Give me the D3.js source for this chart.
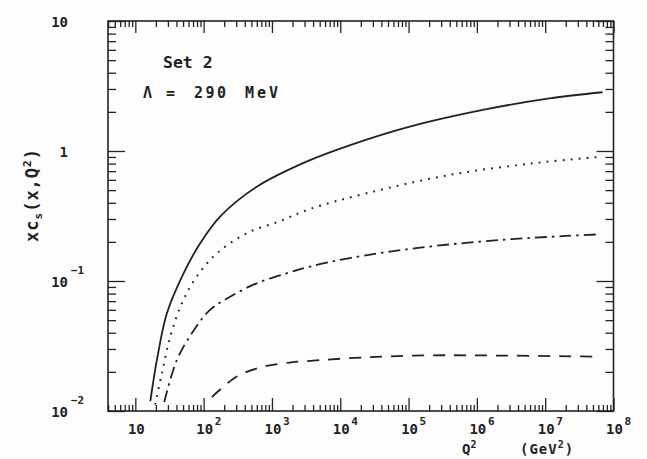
<!DOCTYPE html>
<html>
<head>
<meta charset="utf-8">
<script src="https://cdn.jsdelivr.net/npm/d3@7"></script>
<style>
  html, body { margin: 0; padding: 0; background: #fdfdfd; }
  svg { display: block; }
  text { font-family: "DejaVu Sans Mono", monospace; font-weight: bold; fill: #222; }
</style>
</head>
<body>
<svg id="chart" width="647" height="459"></svg>
<script>
// Charm distribution xc(x,Q^2) vs Q^2, four curves (solid, dotted, dash-dot, dashed)
const solidQ2   = [16.6, 20.7, 29, 51, 89, 174, 600, 3200, 1.4e4, 1.04e5, 1.22e6, 1.15e7, 6.9e7];
const solidVal  = [0.0119, 0.0247, 0.0565, 0.115, 0.195, 0.313, 0.531, 0.828, 1.11, 1.54, 2.07, 2.54, 2.83];

const dottedQ2  = [19.5, 24.5, 32.4, 48, 79, 156, 428, 1310, 3590, 2.42e4, 3.97e5, 6.5e6, 6.9e7];
const dottedVal = [0.0112, 0.0195, 0.0373, 0.0673, 0.108, 0.163, 0.233, 0.289, 0.358, 0.473, 0.654, 0.804, 0.904];

const dashDotQ2  = [26.5, 40.6, 67.3, 124, 244, 597, 1640, 3590, 1.38e4, 1.29e5, 2.13e6, 2.0e7, 6.1e7];
const dashDotVal = [0.0117, 0.0247, 0.0396, 0.0599, 0.0757, 0.096, 0.1146, 0.129, 0.150, 0.179, 0.2066, 0.222, 0.2285];

const dashedQ2  = [132, 306, 746, 1830, 3200, 2.42e4, 2.26e5, 2.13e6, 4.9e7];
const dashedVal = [0.0128, 0.0184, 0.0219, 0.0236, 0.0242, 0.0259, 0.0268, 0.0267, 0.0262];

// Axis decades and their labels (base "10", exponent as superscript)
const xTickValues = [10, 1e2, 1e3, 1e4, 1e5, 1e6, 1e7, 1e8];
const xTickExps   = ["", "2", "3", "4", "5", "6", "7", "8"];
const yTickValues = [10, 1, 0.1, 0.01];
const yTickBases  = ["10", "1", "10", "10"];
const yTickExps   = ["", "", "\u22121", "\u22122"];

const svg = d3.select("#chart");
const plotLeft = 108, plotRight = 613.5, plotTop = 21, plotBottom = 411;

const x = d3.scaleLog().domain([Math.pow(10, 0.6), 1e8]).range([plotLeft, plotRight]);
const y = d3.scaleLog().domain([0.01, 10]).range([plotBottom, plotTop]);

// minor ticks 2..9 within each decade
function minors(scale) {
  const [d0, d1] = scale.domain();
  const out = [];
  for (let e = Math.floor(Math.log10(d0)); e < Math.ceil(Math.log10(d1)); e++) {
    for (let m = 2; m <= 9; m++) {
      const v = m * Math.pow(10, e);
      if (v >= d0 * 0.999 && v <= d1 * 1.001) out.push(v);
    }
  }
  return out;
}
const xMajor = d3.range(1, 9).map(e => Math.pow(10, e));
const yMajor = [0.01, 0.1, 1, 10];

function drawAxis(axis, tx, ty) {
  const g = svg.append("g").attr("transform", `translate(${tx},${ty})`).call(axis);
  g.select(".domain").remove();
  g.selectAll("line").attr("stroke", "#222").attr("stroke-width", 1.3);
  g.selectAll("text").remove();
}

// inward ticks on all four sides
drawAxis(d3.axisBottom(x).tickValues(xMajor).tickSize(-13).tickSizeOuter(0), 0, plotBottom);
drawAxis(d3.axisBottom(x).tickValues(minors(x)).tickSize(-6).tickSizeOuter(0), 0, plotBottom);
drawAxis(d3.axisTop(x).tickValues(xMajor).tickSize(-12).tickSizeOuter(0), 0, plotTop);
drawAxis(d3.axisTop(x).tickValues(minors(x)).tickSize(-6).tickSizeOuter(0), 0, plotTop);
drawAxis(d3.axisLeft(y).tickValues(yMajor).tickSize(-17).tickSizeOuter(0), plotLeft, 0);
drawAxis(d3.axisLeft(y).tickValues(minors(y)).tickSize(-8).tickSizeOuter(0), plotLeft, 0);
drawAxis(d3.axisRight(y).tickValues(yMajor).tickSize(-17).tickSizeOuter(0), plotRight, 0);
drawAxis(d3.axisRight(y).tickValues(minors(y)).tickSize(-8).tickSizeOuter(0), plotRight, 0);

// frame
svg.append("rect")
  .attr("x", plotLeft).attr("y", plotTop)
  .attr("width", plotRight - plotLeft).attr("height", plotBottom - plotTop)
  .attr("fill", "none").attr("stroke", "#222").attr("stroke-width", 1.6);

// x tick labels
xTickValues.forEach((v, i) => {
  const px = x(v);
  svg.append("text").attr("x", px + 1).attr("y", 434)
    .attr("text-anchor", "middle").attr("font-size", 14).text("10");
  if (xTickExps[i]) {
    svg.append("text").attr("x", px + 11).attr("y", 425)
      .attr("font-size", 11).text(xTickExps[i]);
  }
});

// y tick labels
yTickValues.forEach((v, i) => {
  const py = y(v);
  svg.append("text").attr("x", 68).attr("y", py + 6)
    .attr("text-anchor", "end").attr("font-size", 14).text(yTickBases[i]);
  if (yTickExps[i]) {
    svg.append("text").attr("x", 71).attr("y", py - 7)
      .attr("font-size", 11).text(yTickExps[i]);
  }
});

// curves
const line = d3.line().x(d => x(d[0])).y(d => y(d[1])).curve(d3.curveCatmullRom.alpha(0.5));
const series = [
  { q: solidQ2,   v: solidVal,   dash: null,          w: 1.8 },
  { q: dottedQ2,  v: dottedVal,  dash: "1.8,6.2",     w: 2.0 },
  { q: dashDotQ2, v: dashDotVal, dash: "12,5,2.5,5",  w: 1.8 },
  { q: dashedQ2,  v: dashedVal,  dash: "12,9",        w: 1.8 }
];
series.forEach(s => {
  svg.append("path")
    .datum(d3.zip(s.q, s.v))
    .attr("d", line)
    .attr("fill", "none")
    .attr("stroke", "#222")
    .attr("stroke-width", s.w)
    .attr("stroke-dasharray", s.dash);
});

// annotations
svg.append("text").attr("x", 163).attr("y", 68).attr("font-size", 16.5).text("Set 2");
const lam = svg.append("text").attr("y", 98).attr("font-size", 15);
lam.append("tspan").attr("x", 143).text("\u039b");
lam.append("tspan").attr("x", 166).text("=");
lam.append("tspan").attr("x", 194).attr("letter-spacing", 2.5).text("290");
lam.append("tspan").attr("x", 245).attr("letter-spacing", 3).text("MeV");

// y axis title
const yt = svg.append("text")
  .attr("transform", "translate(38,195) rotate(-90)")
  .attr("text-anchor", "middle").attr("font-size", 17).attr("letter-spacing", 1);
yt.append("tspan").text("xc");
yt.append("tspan").attr("font-size", 11).attr("dy", 4).text("s");
yt.append("tspan").attr("dy", -4).text("(x,Q");
yt.append("tspan").attr("font-size", 11).attr("dy", -7).text("2");
yt.append("tspan").attr("dy", 7).text(")");

// x axis title
const xt1 = svg.append("text").attr("x", 462).attr("y", 454).attr("font-size", 14);
xt1.append("tspan").text("Q");
xt1.append("tspan").attr("font-size", 10).attr("dy", -6).text("2");
const xt2 = svg.append("text").attr("x", 520).attr("y", 454).attr("font-size", 14).attr("letter-spacing", 1);
xt2.append("tspan").text("(GeV");
xt2.append("tspan").attr("font-size", 10).attr("dy", -6).text("2");
xt2.append("tspan").attr("dy", 6).text(")");
</script>
</body>
</html>
